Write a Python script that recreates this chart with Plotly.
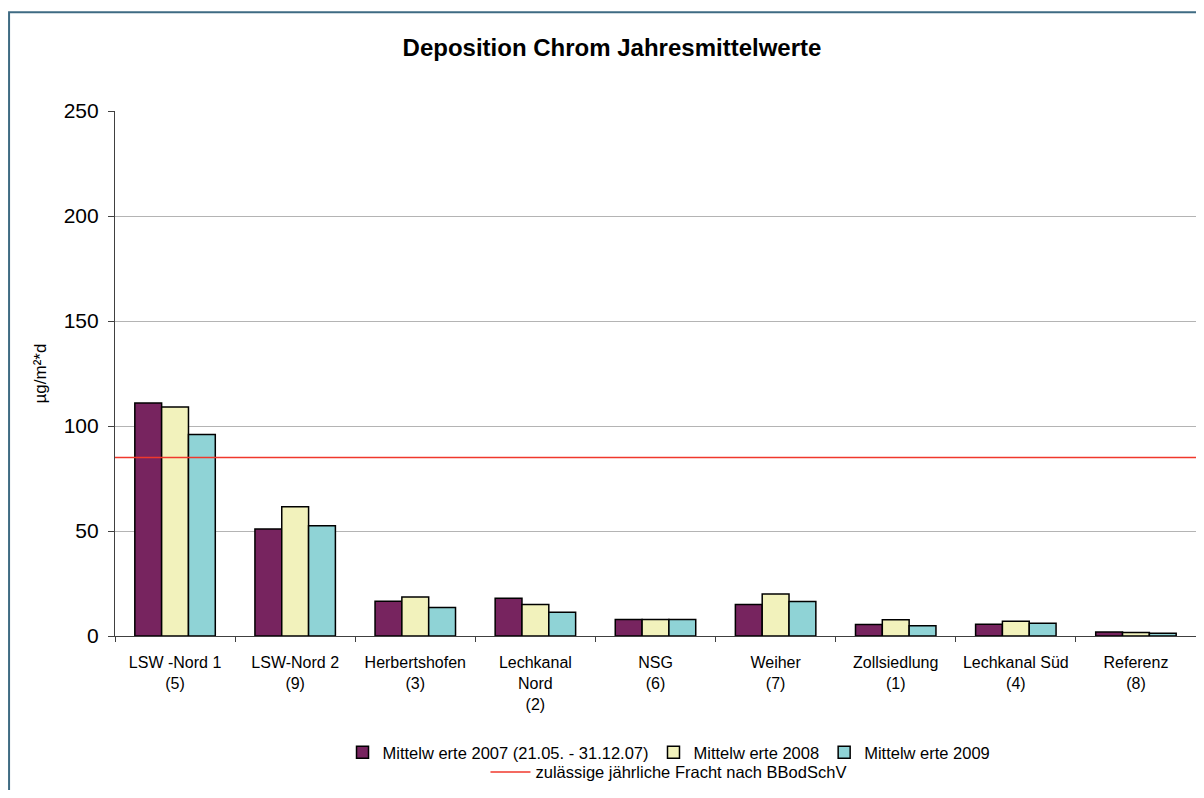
import plotly.graph_objects as go

categories = ["LSW -Nord 1<br>(5)", "LSW-Nord 2<br>(9)", "Herbertshofen<br>(3)",
              "Lechkanal<br>Nord<br>(2)", "NSG<br>(6)", "Weiher<br>(7)",
              "Zollsiedlung<br>(1)", "Lechkanal Süd<br>(4)", "Referenz<br>(8)"]
values_2007 = [111, 51, 16.5, 18, 7.8, 15, 5.5, 5.6, 1.9]
values_2008 = [109, 61.5, 18.6, 15, 7.8, 20, 7.7, 7.0, 1.7]
values_2009 = [96, 52.5, 13.6, 11.3, 7.8, 16.4, 4.9, 6.1, 1.3]
limit_value = 85
y_ticks = [0, 50, 100, 150, 200, 250]

series_names = ["Mittelw erte 2007 (21.05. - 31.12.07)", "Mittelw erte 2008", "Mittelw erte 2009"]
series_colors = ["#77245f", "#f2f2bc", "#8fd3d6"]

fig = go.Figure()
for name, vals, col in zip(series_names, [values_2007, values_2008, values_2009], series_colors):
    fig.add_trace(go.Bar(
        x=categories, y=vals, name=name,
        marker=dict(color=col, line=dict(color="#000000", width=1.5)),
        legend="legend",
    ))

fig.add_trace(go.Scatter(
    x=[0, 1], y=[limit_value, limit_value], mode="lines",
    line=dict(color="#f0382c", width=1.5),
    name="zulässige jährliche Fracht nach BBodSchV",
    xaxis="x2", legend="legend2",
))

fig.update_layout(
    width=1188, height=782,
    margin=dict(l=107, r=0, t=103, b=147),
    paper_bgcolor="white", plot_bgcolor="white",
    font=dict(family="Liberation Sans, Arial, sans-serif", color="#000000", size=16),
    title=dict(text="<b>Deposition Chrom Jahresmittelwerte</b>", x=0.5084, xanchor="center",
               y=0.950, yanchor="middle", font=dict(size=24)),
    barmode="group", bargap=0.33, bargroupgap=0,
    showlegend=True,
    xaxis=dict(
        showline=True, linecolor="#404040", linewidth=1.2,
        ticks="outside", tickson="boundaries", ticklen=5, tickcolor="#404040",
        tickfont=dict(size=16), showgrid=False, ticklabelstandoff=12,
    ),
    xaxis2=dict(overlaying="x", range=[0, 1], visible=False),
    yaxis=dict(
        range=[0, 250], tickvals=y_ticks, showline=True, linecolor="#404040", linewidth=1.2,
        ticks="outside", ticklen=6, tickcolor="#404040",
        showgrid=True, gridcolor="#b4b4b4", gridwidth=1.2,
        tickfont=dict(size=21), zeroline=False, ticklabelstandoff=5,
        title=dict(text="µg/m²*d", font=dict(size=17), standoff=12),
    ),
    legend=dict(orientation="h", x=0.5125, xanchor="center", y=-0.2218, yanchor="middle",
                font=dict(size=16.5), itemwidth=30, bgcolor="rgba(0,0,0,0)", traceorder="normal"),
    legend2=dict(orientation="h", x=0.512, xanchor="center", y=-0.2594, yanchor="middle",
                 font=dict(size=16.5), itemwidth=40, bgcolor="rgba(0,0,0,0)"),
    shapes=[dict(type="rect", xref="paper", yref="paper",
                 x0=-0.098, x1=1.2, y0=-0.6, y1=1.188,
                 line=dict(color="#3f6b83", width=2), fillcolor="rgba(0,0,0,0)", layer="below")],
)

fig.write_html("out.html")
